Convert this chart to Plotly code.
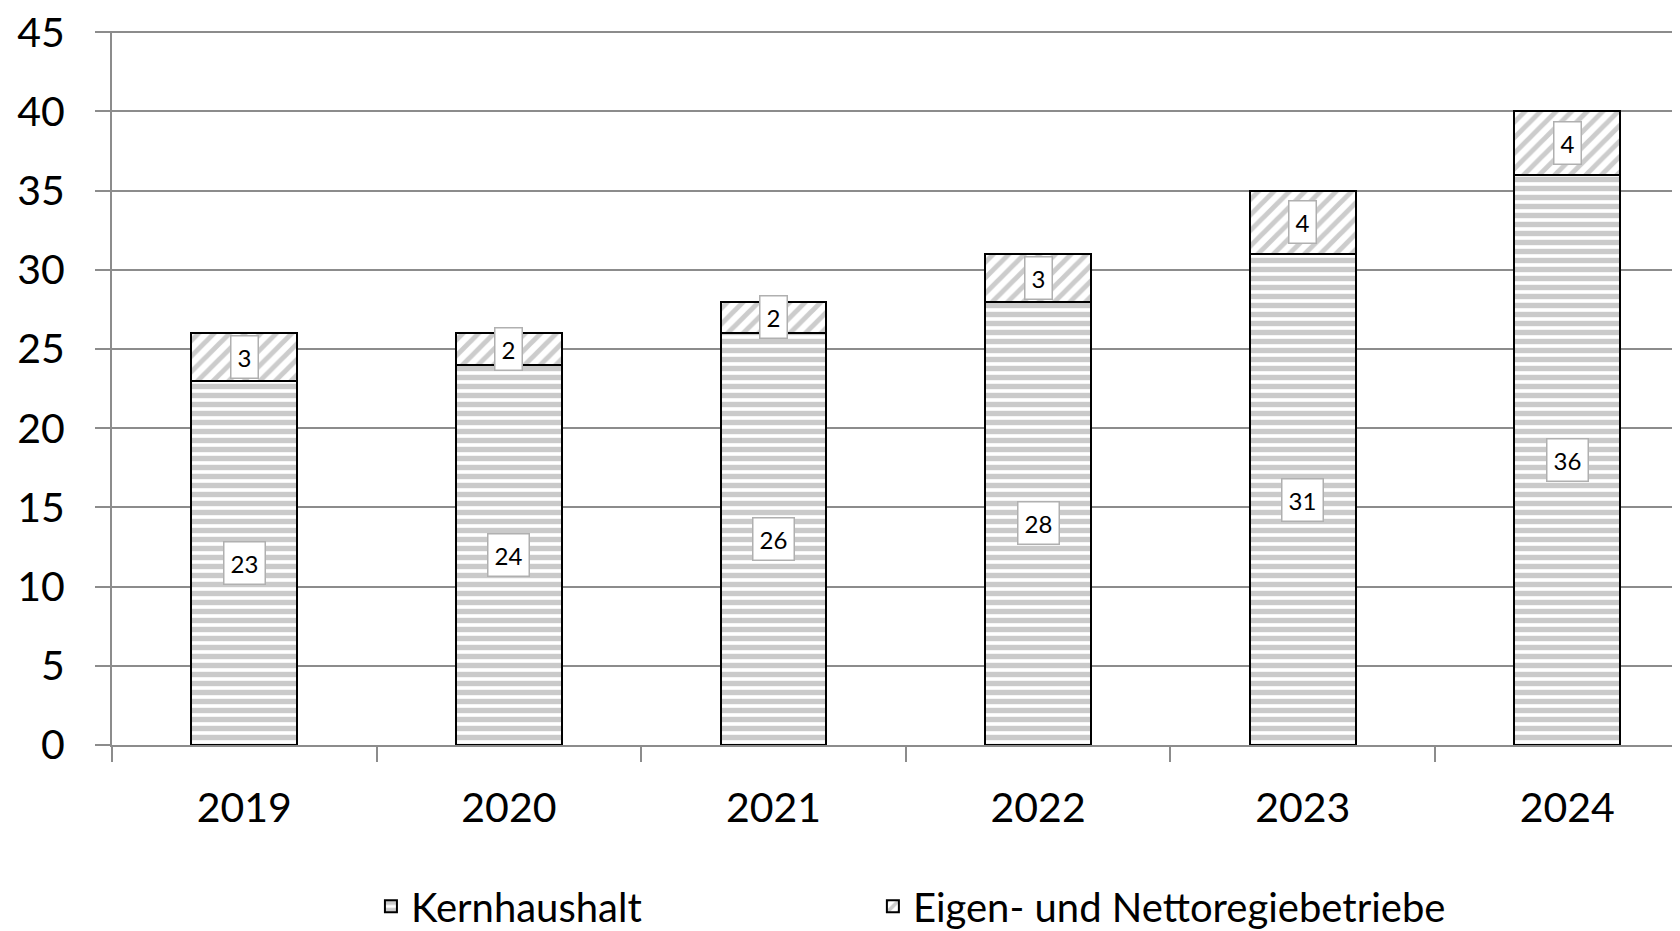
import plotly.graph_objects as go

years = ["2019", "2020", "2021", "2022", "2023", "2024"]
kernhaushalt = [23, 24, 26, 28, 31, 36]
eigen = [3, 2, 2, 3, 4, 4]
y_ticks = [0, 5, 10, 15, 20, 25, 30, 35, 40, 45]

FONT = "Lato"
GRID = "#8c8c8c"
L, T, B = 104, 23, 184
PLOT_W = 1680 - L
CAT_W = 264.6

fig = go.Figure()
fig.add_trace(go.Bar(
    x=years, y=kernhaushalt, name="Kernhaushalt", legend="legend", showlegend=True,
    marker=dict(color="white", line=dict(color="black", width=2),
                pattern=dict(shape="-", fgcolor="#959595", bgcolor="white",
                             size=9, solidity=0.6, fillmode="overlay")),
))
fig.add_trace(go.Bar(
    x=years, y=eigen, name="Eigen- und Nettoregiebetriebe", legend="legend2", showlegend=True,
    marker=dict(color="white", line=dict(color="black", width=2),
                pattern=dict(shape="/", fgcolor="#9a9a9a", bgcolor="white",
                             size=11, solidity=0.45, fillmode="overlay")),
))

annotations = []
for i, (k, e) in enumerate(zip(kernhaushalt, eigen)):
    for val, mid in ((k, k / 2), (e, k + e / 2)):
        annotations.append(dict(
            x=i, y=mid, xref="x", yref="y", text=str(val), showarrow=False,
            font=dict(family=FONT, size=24, color="black"),
            bgcolor="white", bordercolor="#b0b0b0", borderwidth=1.5, borderpad=6,
        ))

legend_common = dict(orientation="h", y=-0.226, xanchor="left", yanchor="middle",
                     font=dict(family=FONT, size=40), bgcolor="rgba(0,0,0,0)", visible=True)

fig.update_layout(
    width=1680, height=931,
    barmode="stack", bargap=0.6, showlegend=True,
    paper_bgcolor="white", plot_bgcolor="white",
    margin=dict(l=L, r=0, t=T, b=B),
    font=dict(family=FONT, color="black"),
    annotations=annotations,
    legend=dict(x=0.1643, **legend_common),
    legend2=dict(x=0.4828, **legend_common),
    xaxis=dict(type="category", range=[-0.5, -0.5 + PLOT_W / CAT_W], showgrid=False,
               showline=True, linecolor=GRID, linewidth=2,
               ticks="outside", tickson="boundaries", ticklen=15, tickcolor=GRID, tickwidth=2,
               tickfont=dict(family=FONT, size=41, color="black"), ticklabelstandoff=26),
    yaxis=dict(range=[0, 45.08], tickvals=y_ticks, showgrid=True, gridcolor=GRID, gridwidth=2,
               showline=True, linecolor=GRID, linewidth=2, zeroline=False,
               ticks="outside", ticklen=15, tickcolor=GRID, tickwidth=2,
               ticklabeloverflow="allow",
               tickfont=dict(family=FONT, size=41, color="black"), ticklabelstandoff=22),
)

fig.write_html("out.html")
